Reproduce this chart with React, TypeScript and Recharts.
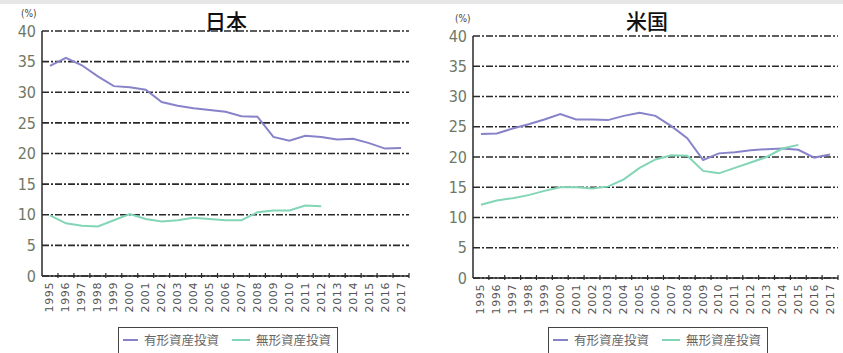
import { LineChart, Line, XAxis, YAxis, CartesianGrid } from 'recharts';

const years = [
  '1995', '1996', '1997', '1998', '1999', '2000', '2001', '2002', '2003', '2004', '2005', '2006',
  '2007', '2008', '2009', '2010', '2011', '2012', '2013', '2014', '2015', '2016', '2017',
];

// 日本
const jpTangible = [
  34.3, 35.6, 34.4, 32.6, 31.0, 30.8, 30.4, 28.4, 27.8, 27.4, 27.1, 26.8,
  26.1, 26.0, 22.7, 22.1, 22.9, 22.7, 22.3, 22.4, 21.7, 20.8, 20.9,
];
const jpIntangible = [
  9.9, 8.6, 8.2, 8.1, 9.1, 10.1, 9.3, 8.9, 9.1, 9.5, 9.3, 9.1,
  9.1, 10.4, 10.7, 10.7, 11.5, 11.4, null, null, null, null, null,
];

// 米国
const usTangible = [
  23.8, 23.9, 24.7, 25.4, 26.2, 27.1, 26.2, 26.2, 26.1, 26.8, 27.3, 26.8,
  25.1, 23.1, 19.5, 20.6, 20.8, 21.1, 21.3, 21.4, 21.2, 19.9, 20.4,
];
const usIntangible = [
  12.1, 12.8, 13.2, 13.7, 14.4, 15.0, 15.0, 14.8, 15.1, 16.3, 18.2, 19.6,
  20.3, 20.2, 17.7, 17.3, 18.2, 19.1, 20.0, 21.4, 22.0, null, null,
];

const yTicks = [0, 5, 10, 15, 20, 25, 30, 35, 40];
const seriesNames = ['有形資産投資', '無形資産投資'];

const TANGIBLE = '#8783c9';
const INTANGIBLE = '#82d6b6';
const FRAME = '#2a2a2a';
const NARROW = 'Liberation Sans Narrow, DejaVu Sans Condensed, sans-serif';

const buildRows = (tangible: (number | null)[], intangible: (number | null)[]) =>
  years.map((year, i) => ({ year, tangible: tangible[i], intangible: intangible[i] }));

// year label rotated upward, with a small tick mark on the band boundary
const YearTick = (props: any) => {
  const { x, y, payload, band } = props;
  const ty = y + 4;
  return (
    <g>
      <line x1={x + band / 2} x2={x + band / 2} y1={y - 5} y2={y} stroke={FRAME} strokeWidth={1.2} />
      <text
        x={x}
        y={ty}
        transform={`rotate(-90 ${x} ${ty})`}
        textAnchor="end"
        dominantBaseline="central"
        fontFamily="DejaVu Sans"
        fontSize={11}
        letterSpacing={0.6}
        fill="#555"
      >
        {payload.value}
      </text>
    </g>
  );
};

type PanelProps = {
  title: string;
  rows: ReturnType<typeof buildRows>;
  left: number;
  width: number;
  margin: { top: number; right: number; bottom: number; left: number };
  titleX: number;
  unitX: number;
  unitY: number;
  legendX: number;
};

const Panel = ({ title, rows, left, width, margin, titleX, unitX, unitY, legendX }: PanelProps) => {
  const height = 353;
  const band = (width - margin.left - margin.right - 30) / years.length;
  return (
    <div style={{ position: 'absolute', left, top: 0, width, height }}>
      <LineChart width={width} height={height} data={rows} margin={margin}>
        <CartesianGrid
          vertical={false}
          stroke={FRAME}
          strokeWidth={1.7}
          strokeDasharray="7 2 2 2"
        />
        <XAxis
          dataKey="year"
          scale="band"
          interval={0}
          height={40}
          tickLine={false}
          tickSize={0}
          axisLine={{ stroke: FRAME, strokeWidth: 1.5 }}
          tick={<YearTick band={band} />}
        />
        <XAxis
          xAxisId="top"
          dataKey="year"
          orientation="top"
          scale="band"
          height={0}
          tick={false}
          tickLine={false}
          axisLine={{ stroke: FRAME, strokeWidth: 1.5 }}
        />
        <YAxis
          domain={[0, 40]}
          ticks={yTicks}
          width={30}
          tickLine={false}
          tickSize={0}
          tickMargin={6}
          axisLine={{ stroke: FRAME, strokeWidth: 1.5 }}
          tick={{ fill: '#6e7866', fontSize: 16, fontFamily: NARROW }}
        />
        <YAxis
          yAxisId="right"
          orientation="right"
          domain={[0, 40]}
          width={0}
          tick={false}
          tickLine={false}
          axisLine={{ stroke: FRAME, strokeWidth: 1.5 }}
        />
        <Line
          dataKey="tangible"
          name={seriesNames[0]}
          stroke={TANGIBLE}
          strokeWidth={2}
          dot={false}
          type="linear"
          isAnimationActive={false}
        />
        <Line
          dataKey="intangible"
          name={seriesNames[1]}
          stroke={INTANGIBLE}
          strokeWidth={2}
          dot={false}
          type="linear"
          isAnimationActive={false}
        />
      </LineChart>
      <div
        style={{
          position: 'absolute',
          left: titleX - 40,
          width: 80,
          top: 6,
          textAlign: 'center',
          fontFamily: 'Noto Sans CJK JP',
          fontSize: 21,
          fontWeight: 500,
          color: '#111',
          lineHeight: '28px',
        }}
      >
        {title}
      </div>
      <div
        style={{
          position: 'absolute',
          left: unitX,
          top: unitY,
          fontFamily: NARROW,
          fontSize: 10,
          color: '#444',
        }}
      >
        (%)
      </div>
      <div
        style={{
          position: 'absolute',
          left: legendX,
          top: 327,
          width: 220,
          height: 32,
          border: '1px solid #444',
          background: '#fff',
          boxSizing: 'border-box',
          display: 'flex',
          alignItems: 'center',
          whiteSpace: 'nowrap',
          paddingLeft: 4,
          paddingBottom: 6,
          fontFamily: 'Noto Sans CJK JP',
          fontSize: 12.5,
          lineHeight: '16px',
          color: '#666',
        }}
      >
        <span style={{ flexShrink: 0, display: 'inline-block', width: 15, height: 2, background: TANGIBLE, marginRight: 6 }} />
        <span style={{ flexShrink: 0 }}>{seriesNames[0]}</span>
        <span style={{ flexShrink: 0, display: 'inline-block', width: 18, height: 2, background: INTANGIBLE, marginLeft: 13, marginRight: 6 }} />
        <span style={{ flexShrink: 0 }}>{seriesNames[1]}</span>
      </div>
    </div>
  );
};

export default function App() {
  return (
    <div
      style={{
        position: 'absolute',
        left: 0,
        top: 0,
        width: 843,
        height: 353,
        background: '#fff',
        overflow: 'hidden',
      }}
    >
      <div style={{ position: 'absolute', left: 0, top: 0, width: 843, height: 4, background: '#e6e6e6' }} />
      <Panel
        title="日本"
        rows={buildRows(jpTangible, jpIntangible)}
        left={0}
        width={420}
        margin={{ top: 31, right: 11, bottom: 37, left: 12 }}
        titleX={226}
        unitX={21}
        unitY={8}
        legendX={118}
      />
      <Panel
        title="米国"
        rows={buildRows(usTangible, usIntangible)}
        left={420}
        width={423}
        margin={{ top: 36, right: 5, bottom: 35, left: 23 }}
        titleX={227}
        unitX={35}
        unitY={13}
        legendX={128}
      />
    </div>
  );
}
